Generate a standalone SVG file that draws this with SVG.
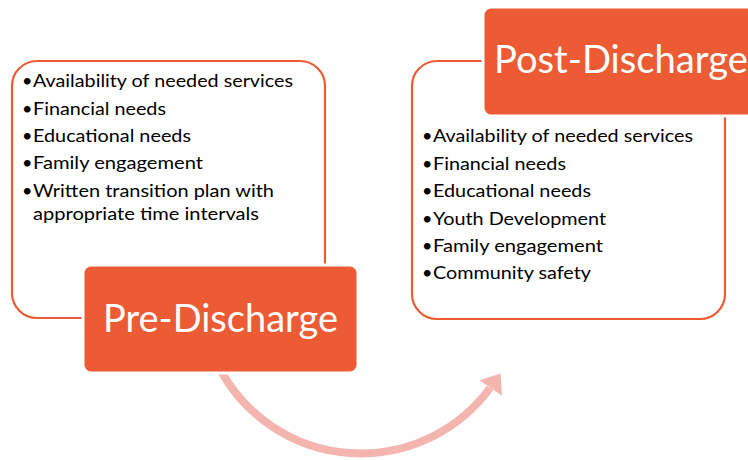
<svg xmlns="http://www.w3.org/2000/svg" width="748" height="460" viewBox="0 0 748 460">
<style>
.outline{fill:#fff;stroke:#EC5B33;stroke-width:2.2}
.head{fill:#EC5B33;stroke:#fff;stroke-width:3}
.ht{font-family:Lato,"Open Sans","Liberation Sans",sans-serif;font-size:38px;fill:#fff}
.bt{font-family:Lato,"Open Sans","Liberation Sans",sans-serif;font-size:18px;fill:#000}
.bu{font-family:Lato,"Open Sans","Liberation Sans",sans-serif;font-size:18px;fill:#000;text-anchor:end}
.arc{fill:none;stroke:#F4B5AE;stroke-width:8}
</style>
<rect width="748" height="460" fill="#fff"/>
<g id="pre-list">
<rect class="outline" x="12" y="61" width="313" height="257" rx="25"/>
<text class="bu" x="32.5" y="87">•</text><text class="bt" x="33" y="87" textLength="260" lengthAdjust="spacingAndGlyphs">Availability of needed services</text>
<text class="bu" x="32.5" y="115">•</text><text class="bt" x="33" y="115" textLength="133" lengthAdjust="spacingAndGlyphs">Financial needs</text>
<text class="bu" x="32.5" y="142">•</text><text class="bt" x="33" y="142" textLength="158" lengthAdjust="spacingAndGlyphs">Educational needs</text>
<text class="bu" x="32.5" y="169">•</text><text class="bt" x="33" y="169" textLength="170" lengthAdjust="spacingAndGlyphs">Family engagement</text>
<text class="bu" x="32.5" y="197">•</text><text class="bt" x="33" y="197" textLength="241" lengthAdjust="spacingAndGlyphs">Written transition plan with</text>
<text class="bt" x="33" y="220" textLength="226" lengthAdjust="spacingAndGlyphs">appropriate time intervals</text>
</g>
<g id="post-list">
<rect class="outline" x="412" y="61" width="313" height="258" rx="25"/>
<text class="bu" x="432.5" y="142">•</text><text class="bt" x="433" y="142" textLength="260" lengthAdjust="spacingAndGlyphs">Availability of needed services</text>
<text class="bu" x="432.5" y="170">•</text><text class="bt" x="433" y="170" textLength="133" lengthAdjust="spacingAndGlyphs">Financial needs</text>
<text class="bu" x="432.5" y="197">•</text><text class="bt" x="433" y="197" textLength="158" lengthAdjust="spacingAndGlyphs">Educational needs</text>
<text class="bu" x="432.5" y="225">•</text><text class="bt" x="433" y="225" textLength="173" lengthAdjust="spacingAndGlyphs">Youth Development</text>
<text class="bu" x="432.5" y="252">•</text><text class="bt" x="433" y="252" textLength="170" lengthAdjust="spacingAndGlyphs">Family engagement</text>
<text class="bu" x="432.5" y="279">•</text><text class="bt" x="433" y="279" textLength="158" lengthAdjust="spacingAndGlyphs">Community safety</text>
</g>
<g id="connectors">
<path class="arc" d="M 221 371 A 160 160 0 0 0 490 388"/>
<polygon points="500.6,373.4 502,395.7 479.5,380.3" fill="#F4B5AE"/>
</g>
<g id="pre-discharge">
<rect class="head" x="83" y="265" width="275" height="108" rx="8"/>
<text class="ht" x="103" y="332" textLength="235" lengthAdjust="spacingAndGlyphs">Pre-Discharge</text>
</g>
<g id="post-discharge">
<rect class="head" x="483" y="7" width="290" height="109" rx="8"/>
<text class="ht" x="494" y="73" textLength="254" lengthAdjust="spacingAndGlyphs">Post-Discharge</text>
</g>
</svg>
